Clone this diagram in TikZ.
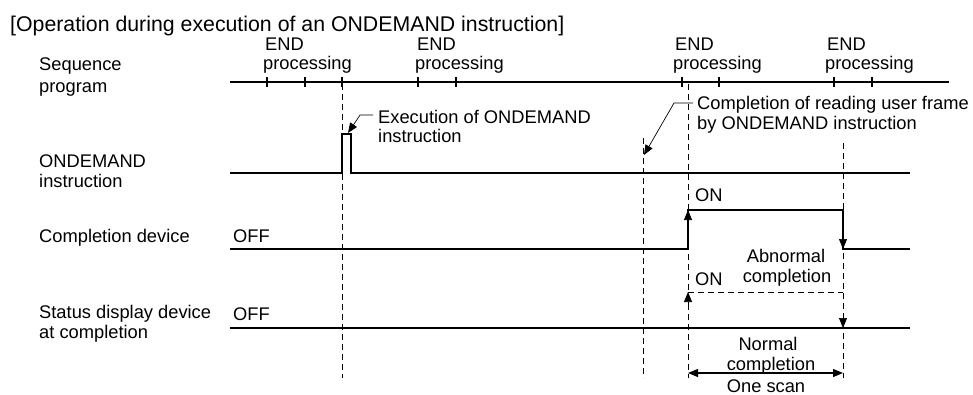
\documentclass[tikz,border=0pt]{standalone}
\usepackage{fontspec}
\setmainfont{Liberation Sans}
\usetikzlibrary{arrows.meta}
\begin{document}
\begin{tikzpicture}[x=1pt,y=-1pt,
  txt/.style={font=\fontsize{18.3}{20}\selectfont, inner sep=0pt, anchor=base west},
  ctxt/.style={font=\fontsize{18.3}{20}\selectfont, inner sep=0pt, anchor=base},
  sig/.style={line width=2.4pt, line join=miter},
  tck/.style={line width=1.6pt},
  dsh/.style={line width=0.9pt, dash pattern=on 6pt off 4pt},
  ldr/.style={line width=0.7pt},
  tipend/.style={-{Triangle[length=10pt,width=8pt]}},
  bothtips/.style={{Triangle[length=10pt,width=8pt]}-{Triangle[length=10pt,width=8pt]}, line width=1.2pt}]
\useasboundingbox (0,0) rectangle (973,394);

% title
\node[txt, font=\fontsize{21.3}{24}\selectfont] (title) at (10,31) {[Operation during execution of an ONDEMAND instruction]};

% END processing labels
\node[txt] (end1) at (265,50) {END};
\node[txt] (proc1) at (263,69) {processing};
\node[txt] (end2) at (417,50) {END};
\node[txt] (proc2) at (415,69) {processing};
\node[txt] (end3) at (675,50) {END};
\node[txt] (proc3) at (673,69) {processing};
\node[txt] (end4) at (827,50) {END};
\node[txt] (proc4) at (825,69) {processing};

% left labels
\node[txt] (lseq1) at (39,70) {Sequence};
\node[txt] (lseq2) at (39,92) {program};
\node[txt] (lond1) at (39,167) {ONDEMAND};
\node[txt] (lond2) at (39,187) {instruction};
\node[txt] (lcd) at (39,242) {Completion device};
\node[txt] (lsd1) at (39,318) {Status display device};
\node[txt] (lsd2) at (39,338) {at completion};

% sequence program line
\coordinate (sA) at (230,82);
\coordinate (sB) at (949,82);
\draw[sig] (sA) -- (sB);
\foreach \x in {267,305,342,418,456,682,719,834,872}
  \draw[tck] (\x,77) -- (\x,87);

% ONDEMAND instruction line with pulse
\coordinate (oA) at (230,173);
\coordinate (oP1) at (342,173);
\coordinate (oP2) at (342,134);
\coordinate (oP3) at (351,134);
\coordinate (oP4) at (351,173);
\coordinate (oB) at (910,173);
\draw[sig] (oA) -- (oP1) -- (oP2) -- (oP3) -- (oP4) -- (oB);

% completion device
\coordinate (cA) at (230,249);
\coordinate (cR1) at (688,249);
\coordinate (cR2) at (688,210);
\coordinate (cF1) at (843,210);
\coordinate (cF2) at (843,249);
\coordinate (cB) at (910,249);
\draw[sig] (cA) -- (cR1) -- (cR2) -- (cF1) -- (cF2) -- (cB);
\draw[ldr, tipend] (688,224) -- (cR2);
\draw[ldr, tipend] (843,235) -- (cF2);
\node[txt] (off1) at (233,242) {OFF};
\node[txt] (on1) at (695,201) {ON};

% status display device
\coordinate (dA) at (230,328);
\coordinate (dB) at (910,328);
\draw[sig] (dA) -- (dB);
\node[txt] (off2) at (233,320) {OFF};
\coordinate (nU) at (688,292);
\coordinate (nD) at (843,292);
\coordinate (nDt) at (843,328);
\draw[dsh] (nU) -- (nD);
\draw[ldr, tipend] (688,305) -- (nU);
\draw[ldr, tipend] (843,315) -- (nDt);
\node[txt] (on2) at (695,285) {ON};
\node[ctxt] (abn1) at (786,262) {Abnormal};
\node[ctxt] (abn2) at (787,282) {completion};
\node[ctxt] (nor1) at (768,350) {Normal};
\node[ctxt] (nor2) at (771,370) {completion};

% dashed verticals
\draw[dsh] (342,84) -- (342,378);
\draw[dsh] (643,138) -- (643,378);
\draw[dsh] (688,84) -- (688,378);
\draw[dsh] (843,143) -- (843,378);

% one scan
\coordinate (scA) at (688,373);
\coordinate (scB) at (843,373);
\draw[bothtips] (scA) -- (scB);
\node[ctxt] (scan) at (766,392) {One scan};

% leader: execution
\node[txt] (exe1) at (378,123) {Execution of ONDEMAND};
\node[txt] (exe2) at (378,142) {instruction};
\coordinate (eL1) at (373,115);
\coordinate (eL2) at (360,115);
\coordinate (eT) at (348,133);
\draw[ldr, tipend] (eL1) -- (eL2) -- (eT);

% leader: completion of reading
\node[txt] (cmp1) at (697,109) {Completion of reading user frame};
\node[txt] (cmp2) at (697,129) {by ONDEMAND instruction};
\coordinate (rL1) at (693,103);
\coordinate (rL2) at (674,103);
\coordinate (rT) at (644,155);
\draw[ldr, tipend] (rL1) -- (rL2) -- (rT);
\end{tikzpicture}
\end{document}
